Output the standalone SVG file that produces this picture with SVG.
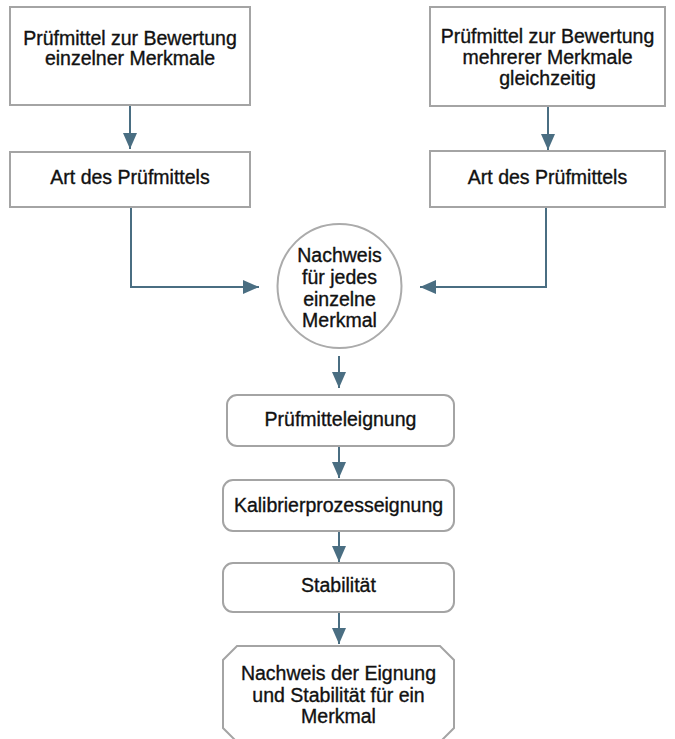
<svg xmlns="http://www.w3.org/2000/svg" width="675" height="739" viewBox="0 0 675 739">
<style>
.box{fill:#fff;stroke:#a4a4a4;stroke-width:2}
.t{font-family:"Liberation Sans",Arial,Helvetica,sans-serif;font-size:19.5px;fill:#111;stroke:#111;stroke-width:0.35;text-anchor:middle}
.c{fill:none;stroke:#4a6e82;stroke-width:2}
</style>
<defs>
<marker id="ah" markerUnits="userSpaceOnUse" markerWidth="16" markerHeight="14" refX="16" refY="7" orient="auto" viewBox="0 0 16 14">
<path d="M0,0 L16,7 L0,14 z" fill="#4a6e82"/>
</marker>
</defs>
<rect width="675" height="739" fill="#fff"/>
<g id="connectors">
<path class="c" d="M130,106 V149" marker-end="url(#ah)"/>
<path class="c" d="M548,107 V150" marker-end="url(#ah)"/>
<path class="c" d="M131,208 V287 H259" marker-end="url(#ah)"/>
<path class="c" d="M546,208 V287 H420" marker-end="url(#ah)"/>
<path class="c" d="M339,356 V388" marker-end="url(#ah)"/>
<path class="c" d="M339,447 V478" marker-end="url(#ah)"/>
<path class="c" d="M339,532 V562" marker-end="url(#ah)"/>
<path class="c" d="M339,613 V644" marker-end="url(#ah)"/>
</g>
<g id="n1">
<rect class="box" x="10" y="7" width="240" height="98"/>
<text class="t" x="130" y="45">Prüfmittel zur Bewertung</text>
<text class="t" x="130" y="65">einzelner Merkmale</text>
</g>
<g id="n2">
<rect class="box" x="430" y="7" width="235" height="99"/>
<text class="t" x="547.5" y="43">Prüfmittel zur Bewertung</text>
<text class="t" x="547.5" y="64">mehrerer Merkmale</text>
<text class="t" x="547.5" y="85">gleichzeitig</text>
</g>
<g id="n3">
<rect class="box" x="10" y="152" width="240" height="55"/>
<text class="t" x="130" y="184">Art des Prüfmittels</text>
</g>
<g id="n4">
<rect class="box" x="430" y="151" width="235" height="56"/>
<text class="t" x="547.5" y="184">Art des Prüfmittels</text>
</g>
<g id="n5">
<circle class="box" cx="339.5" cy="286" r="62" style="stroke:#ababab"/>
<text class="t" x="339.5" y="262">Nachweis</text>
<text class="t" x="339.5" y="284">für jedes</text>
<text class="t" x="339.5" y="305.5">einzelne</text>
<text class="t" x="339.5" y="327">Merkmal</text>
</g>
<g id="n6">
<rect class="box" x="227" y="395" width="227" height="51" rx="10"/>
<text class="t" x="340.5" y="426">Prüfmitteleignung</text>
</g>
<g id="n7">
<rect class="box" x="223" y="480" width="231" height="51" rx="10"/>
<text class="t" x="338.5" y="511.5">Kalibrierprozesseignung</text>
</g>
<g id="n8">
<rect class="box" x="223" y="563" width="231" height="49" rx="10"/>
<text class="t" x="338.5" y="592">Stabilität</text>
</g>
<g id="n9">
<polygon class="box" points="237,646 440,646 454,660 454,728 440,742 237,742 223,728 223,660"/>
<text class="t" x="338.5" y="680">Nachweis der Eignung</text>
<text class="t" x="338.5" y="701.5">und Stabilität für ein</text>
<text class="t" x="338.5" y="723">Merkmal</text>
</g>
</svg>
